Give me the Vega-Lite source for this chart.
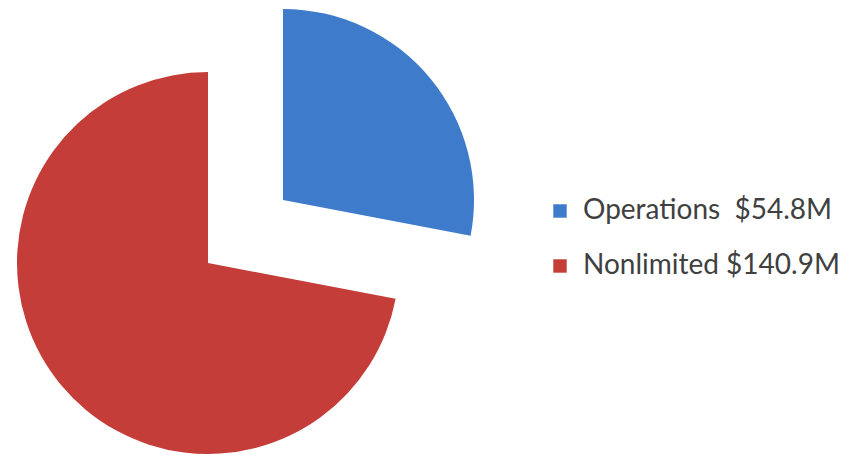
{
  "$schema": "https://vega.github.io/schema/vega-lite/v6.json",
  "width": 491,
  "height": 463,
  "padding": 0,
  "background": "white",
  "config": {"view": {"stroke": null}},
  "data": {"values": [
    {"category": "Operations\u00a0\u00a0$54.8M", "key": "Operations", "value": 54.8},
    {"category": "Nonlimited $140.9M", "key": "Nonlimited", "value": 140.9}
  ]},
  "encoding": {
    "theta": {"field": "value", "type": "quantitative", "stack": true},
    "order": {"field": "key", "sort": "descending"},
    "color": {
      "field": "category",
      "type": "nominal",
      "scale": {"domain": ["Operations\u00a0\u00a0$54.8M", "Nonlimited $140.9M"], "range": ["#3f7bcb", "#c43d39"]},
      "legend": {
        "title": null,
        "orient": "none",
        "legendX": 546,
        "legendY": 197,
        "symbolType": "square",
        "symbolSize": 180,
        "symbolStrokeWidth": 0,
        "labelFont": "Lato",
        "labelFontSize": 28,
        "labelColor": "#404040",
        "labelOffset": 9,
        "rowPadding": 27,
        "padding": 0,
        "labelLimit": 400
      }
    }
  },
  "layer": [
    {
      "mark": {"type": "arc", "radius": 191, "xOffset": 37.5, "yOffset": -31.5},
      "encoding": {"opacity": {"condition": {"test": "datum.key == 'Operations'", "value": 1}, "value": 0}}
    },
    {
      "mark": {"type": "arc", "radius": 191, "xOffset": -37.5, "yOffset": 31.5},
      "encoding": {"opacity": {"condition": {"test": "datum.key == 'Nonlimited'", "value": 1}, "value": 0}}
    }
  ]
}
